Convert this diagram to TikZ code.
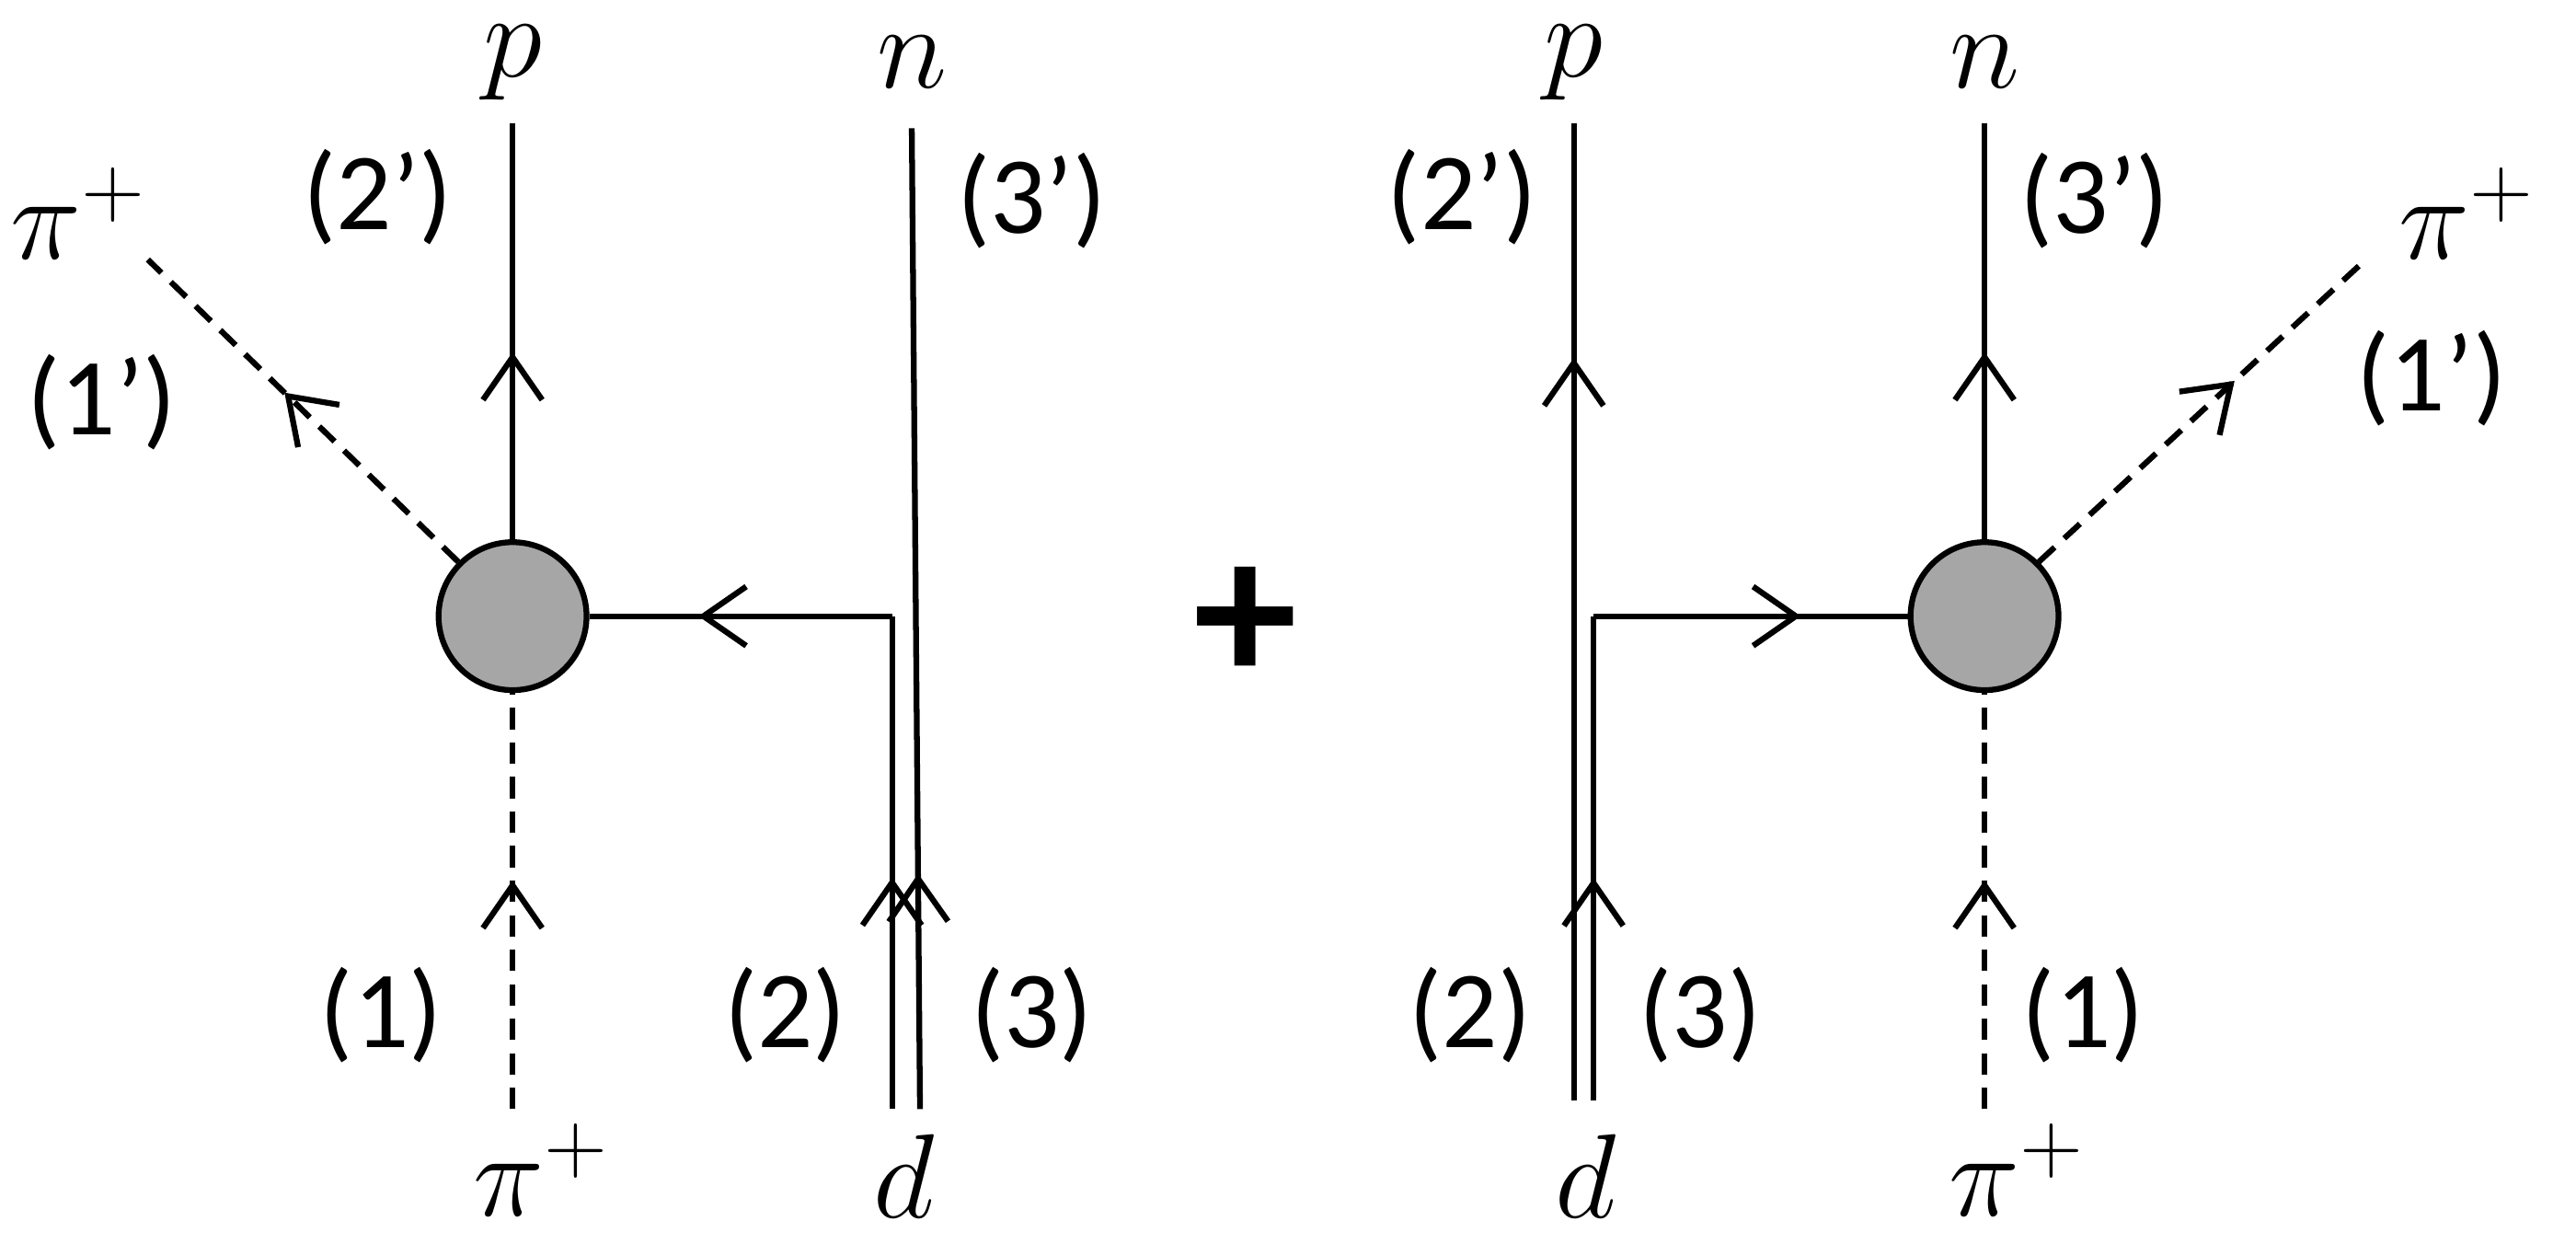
\documentclass[tikz,border=0pt]{standalone}
\usepackage{fontspec}
\newfontfamily\lblfont{Carlito}
\usetikzlibrary{arrows.meta,decorations.markings}
\tikzset{
  line/.style={line width=1pt},
  scalar/.style={line, dash pattern=on 0.13cm off 0.08cm},
  midarrow/.style={postaction={decorate,decoration={markings,
      mark=at position #1 with {\arrow{Straight Barb[length=0.26cm,width=0.36cm,line width=1pt]}}}}},
  blob/.style={circle, draw, line width=1pt, fill=black!35, minimum size=0.9cm, inner sep=0pt},
  tag/.style={font=\lblfont\fontsize{19}{22}\selectfont},
  particle/.style={font=\fontsize{21}{24}\selectfont}
}
\begin{document}
\begin{tikzpicture}[x=0.01cm,y=-0.01cm]
  \useasboundingbox (0,0) rectangle (1568,757);

  % left diagram
  \node[blob] (bl) at (312,375) {};
  \coordinate (lpt) at (312,75);
  \coordinate (lpiout) at (90,158);
  \coordinate (lpiin) at (312,675);
  \coordinate (lcorner) at (543,375);
  \coordinate (ld1) at (543,675);
  \coordinate (ld2) at (560,675);
  \coordinate (lnt) at (555,78);
  \draw[line, midarrow=0.45] (bl.north) -- (lpt);
  \draw[scalar, midarrow=0.56] (bl.135) -- (lpiout);
  \draw[scalar, midarrow=0.55] (lpiin) -- (bl.south);
  \draw[line, midarrow=0.47] (ld1) -- (lcorner);
  \draw[line, midarrow=0.64] (lcorner) -- (bl.east);
  \draw[line, midarrow=0.24] (ld2) -- (lnt);
  \node[particle] (lp) at (312,38) {$p$};
  \node[particle] (ln) at (555,38) {$n$};
  \node[particle] (lpi1) at (48,130) {$\pi^+$};
  \node[particle] (lpi2) at (330,712) {$\pi^+$};
  \node[particle] (ld) at (550,716) {$d$};
  \node[tag] (l2p) at (230,120) {(2’)};
  \node[tag] (l3p) at (628,122) {(3’)};
  \node[tag] (l1p) at (62,245) {(1’)};
  \node[tag] (l1) at (232,618) {(1)};
  \node[tag] (l2) at (478,618) {(2)};
  \node[tag] (l3) at (628,618) {(3)};

  \node[font=\lblfont\bfseries\fontsize{36}{36}\selectfont] (plus) at (758,380) {+};

  % right diagram
  \node[blob] (br) at (1208,375) {};
  \coordinate (rpt) at (958,75);
  \coordinate (rpb) at (958,670);
  \coordinate (rcorner) at (970,375);
  \coordinate (rdb) at (970,670);
  \coordinate (rnt) at (1208,75);
  \coordinate (rpiout) at (1440,158);
  \coordinate (rpiin) at (1208,675);
  \draw[line, midarrow=0.76] (rpb) -- (rpt);
  \draw[line, midarrow=0.46] (rdb) -- (rcorner);
  \draw[line, midarrow=0.66] (rcorner) -- (br.west);
  \draw[line, midarrow=0.45] (br.north) -- (rnt);
  \draw[scalar, midarrow=0.6] (br.45) -- (rpiout);
  \draw[scalar, midarrow=0.55] (rpiin) -- (br.south);
  \node[particle] (rp) at (958,38) {$p$};
  \node[particle] (rn) at (1208,38) {$n$};
  \node[particle] (rpi1) at (1502,130) {$\pi^+$};
  \node[particle] (rpi2) at (1228,712) {$\pi^+$};
  \node[particle] (rd) at (965,716) {$d$};
  \node[tag] (r2p) at (890,120) {(2’)};
  \node[tag] (r3p) at (1275,122) {(3’)};
  \node[tag] (r1p) at (1480,230) {(1’)};
  \node[tag] (r1) at (1268,618) {(1)};
  \node[tag] (r2) at (895,618) {(2)};
  \node[tag] (r3) at (1035,618) {(3)};
\end{tikzpicture}
\end{document}
